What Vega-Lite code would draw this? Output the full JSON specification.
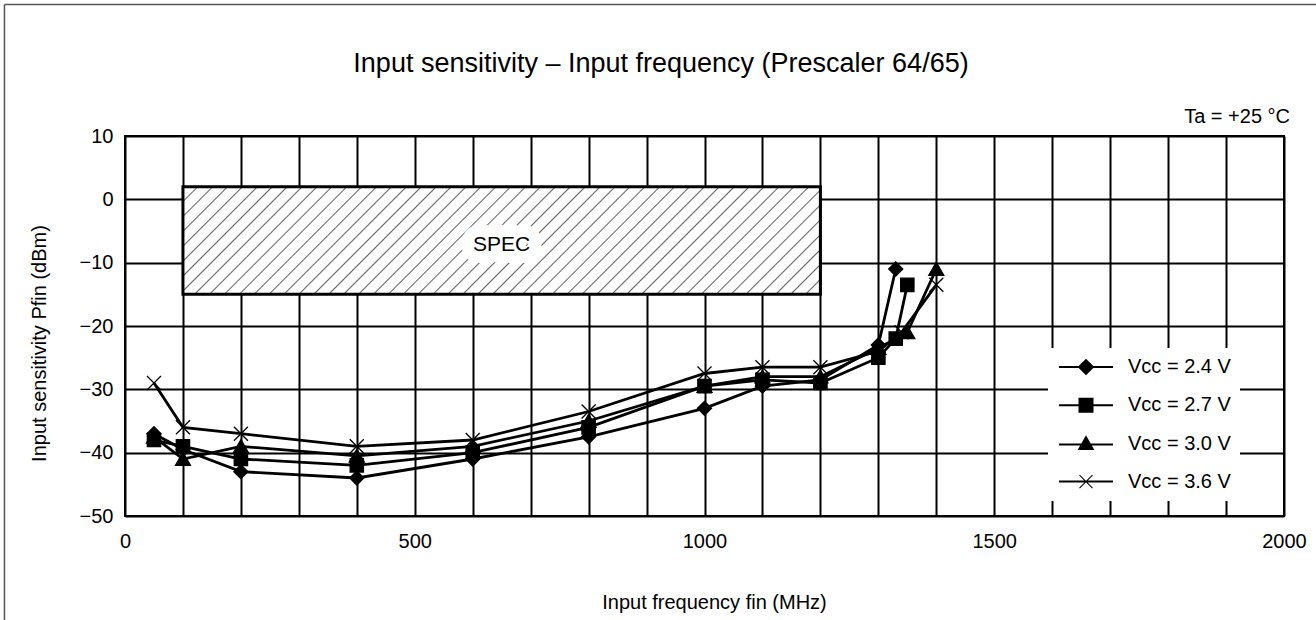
{
  "$schema": "https://vega.github.io/schema/vega-lite/v6.json",
  "width": 1159,
  "height": 380,
  "autosize": {"type": "none"},
  "padding": {"left": 125, "top": 136, "right": 32, "bottom": 104},
  "background": "white",
  "title": {
    "text": "Input sensitivity – Input frequency (Prescaler 64/65)",
    "font": "Liberation Sans",
    "fontSize": 27,
    "fontWeight": "normal",
    "color": "black",
    "anchor": "middle",
    "frame": "group",
    "dx": -43.5,
    "offset": -95,
    "baseline": "alphabetic"
  },
  "config": {
    "font": "Liberation Sans",
    "view": {"stroke": "black", "strokeWidth": 2},
    "axis": {
      "grid": true,
      "gridColor": "black",
      "gridWidth": 2,
      "gridOpacity": 1,
      "ticks": false,
      "domain": false,
      "labelFont": "Liberation Sans",
      "labelFontSize": 20,
      "labelColor": "black",
      "labelFlush": false,
      "labelOverlap": false,
      "titleFont": "Liberation Sans",
      "titleFontSize": 20,
      "titleFontWeight": "normal",
      "titleColor": "black"
    }
  },
  "resolve": {"scale": {"shape": "independent"}, "legend": {"shape": "independent"}},
  "datasets": {
    "curves": [
      {"series": "Vcc = 2.4 V", "f": 50, "p": -37},
      {"series": "Vcc = 2.4 V", "f": 100, "p": -39.5},
      {"series": "Vcc = 2.4 V", "f": 200, "p": -43},
      {"series": "Vcc = 2.4 V", "f": 400, "p": -44},
      {"series": "Vcc = 2.4 V", "f": 600, "p": -41},
      {"series": "Vcc = 2.4 V", "f": 800, "p": -37.5},
      {"series": "Vcc = 2.4 V", "f": 1000, "p": -33},
      {"series": "Vcc = 2.4 V", "f": 1100, "p": -29.5},
      {"series": "Vcc = 2.4 V", "f": 1200, "p": -28.5},
      {"series": "Vcc = 2.4 V", "f": 1300, "p": -23},
      {"series": "Vcc = 2.4 V", "f": 1330, "p": -11},
      {"series": "Vcc = 2.7 V", "f": 50, "p": -38},
      {"series": "Vcc = 2.7 V", "f": 100, "p": -39},
      {"series": "Vcc = 2.7 V", "f": 200, "p": -41},
      {"series": "Vcc = 2.7 V", "f": 400, "p": -42},
      {"series": "Vcc = 2.7 V", "f": 600, "p": -40},
      {"series": "Vcc = 2.7 V", "f": 800, "p": -36},
      {"series": "Vcc = 2.7 V", "f": 1000, "p": -29.5},
      {"series": "Vcc = 2.7 V", "f": 1100, "p": -28.5},
      {"series": "Vcc = 2.7 V", "f": 1200, "p": -29},
      {"series": "Vcc = 2.7 V", "f": 1300, "p": -25},
      {"series": "Vcc = 2.7 V", "f": 1330, "p": -22},
      {"series": "Vcc = 2.7 V", "f": 1350, "p": -13.5},
      {"series": "Vcc = 3.0 V", "f": 50, "p": -37.5},
      {"series": "Vcc = 3.0 V", "f": 100, "p": -41},
      {"series": "Vcc = 3.0 V", "f": 200, "p": -39},
      {"series": "Vcc = 3.0 V", "f": 400, "p": -40.5},
      {"series": "Vcc = 3.0 V", "f": 600, "p": -39},
      {"series": "Vcc = 3.0 V", "f": 800, "p": -35},
      {"series": "Vcc = 3.0 V", "f": 1000, "p": -29.5},
      {"series": "Vcc = 3.0 V", "f": 1100, "p": -28},
      {"series": "Vcc = 3.0 V", "f": 1200, "p": -28},
      {"series": "Vcc = 3.0 V", "f": 1300, "p": -23.5},
      {"series": "Vcc = 3.0 V", "f": 1350, "p": -21},
      {"series": "Vcc = 3.0 V", "f": 1400, "p": -11},
      {"series": "Vcc = 3.6 V", "f": 50, "p": -29},
      {"series": "Vcc = 3.6 V", "f": 100, "p": -36},
      {"series": "Vcc = 3.6 V", "f": 200, "p": -37},
      {"series": "Vcc = 3.6 V", "f": 400, "p": -39},
      {"series": "Vcc = 3.6 V", "f": 600, "p": -38},
      {"series": "Vcc = 3.6 V", "f": 800, "p": -33.5},
      {"series": "Vcc = 3.6 V", "f": 1000, "p": -27.5},
      {"series": "Vcc = 3.6 V", "f": 1100, "p": -26.5},
      {"series": "Vcc = 3.6 V", "f": 1200, "p": -26.5},
      {"series": "Vcc = 3.6 V", "f": 1300, "p": -24},
      {"series": "Vcc = 3.6 V", "f": 1340, "p": -21},
      {"series": "Vcc = 3.6 V", "f": 1400, "p": -13.5}
    ],
    "spec": [
      {"label": "SPEC", "note": "Ta = +25 °C", "f": 100, "f2": 1200, "p": 2, "p2": -15}
    ]
  },
  "data": {"name": "curves"},
  "encoding": {
    "x": {
      "field": "f",
      "type": "quantitative",
      "scale": {"domain": [0, 2000], "nice": false, "zero": false},
      "axis": {
        "values": [0, 100, 200, 300, 400, 500, 600, 700, 800, 900, 1000, 1100, 1200, 1300, 1400, 1500, 1600, 1700, 1800, 1900, 2000],
        "format": "d",
        "labelExpr": "datum.value % 500 === 0 ? datum.label : ''",
        "labelPadding": 31,
        "labelBaseline": "alphabetic",
        "title": "Input frequency fin (MHz)",
        "titleX": 589,
        "titleY": 92.5,
        "titleBaseline": "alphabetic",
        "titleAlign": "center"
      }
    },
    "y": {
      "field": "p",
      "type": "quantitative",
      "scale": {"domain": [-50, 10], "nice": false, "zero": false},
      "axis": {
        "values": [-50, -40, -30, -20, -10, 0, 10],
        "labelPadding": 12,
        "title": "Input sensitivity Pfin (dBm)",
        "titleX": -80,
        "titleY": 207,
        "titleAngle": 270,
        "titleBaseline": "alphabetic",
        "titleAlign": "center"
      }
    }
  },
  "layer": [
    {
      "data": {"name": "spec"},
      "mark": {
        "type": "rect",
        "stroke": "black",
        "strokeWidth": 3,
        "fill": {
          "gradient": "linear",
          "x1": 0, "y1": 0, "x2": 1.1365, "y2": 0.1919,
          "stops": [
            {"offset": 0, "color": "#666"}, {"offset": 0.002, "color": "#fff"}, {"offset": 0.018, "color": "#fff"},
            {"offset": 0.02, "color": "#666"}, {"offset": 0.022, "color": "#fff"}, {"offset": 0.038, "color": "#fff"},
            {"offset": 0.04, "color": "#666"}, {"offset": 0.042, "color": "#fff"}, {"offset": 0.058, "color": "#fff"},
            {"offset": 0.06, "color": "#666"}, {"offset": 0.062, "color": "#fff"}, {"offset": 0.078, "color": "#fff"},
            {"offset": 0.08, "color": "#666"}, {"offset": 0.082, "color": "#fff"}, {"offset": 0.098, "color": "#fff"},
            {"offset": 0.1, "color": "#666"}, {"offset": 0.102, "color": "#fff"}, {"offset": 0.118, "color": "#fff"},
            {"offset": 0.12, "color": "#666"}, {"offset": 0.122, "color": "#fff"}, {"offset": 0.138, "color": "#fff"},
            {"offset": 0.14, "color": "#666"}, {"offset": 0.142, "color": "#fff"}, {"offset": 0.158, "color": "#fff"},
            {"offset": 0.16, "color": "#666"}, {"offset": 0.162, "color": "#fff"}, {"offset": 0.178, "color": "#fff"},
            {"offset": 0.18, "color": "#666"}, {"offset": 0.182, "color": "#fff"}, {"offset": 0.198, "color": "#fff"},
            {"offset": 0.2, "color": "#666"}, {"offset": 0.202, "color": "#fff"}, {"offset": 0.218, "color": "#fff"},
            {"offset": 0.22, "color": "#666"}, {"offset": 0.222, "color": "#fff"}, {"offset": 0.238, "color": "#fff"},
            {"offset": 0.24, "color": "#666"}, {"offset": 0.242, "color": "#fff"}, {"offset": 0.258, "color": "#fff"},
            {"offset": 0.26, "color": "#666"}, {"offset": 0.262, "color": "#fff"}, {"offset": 0.278, "color": "#fff"},
            {"offset": 0.28, "color": "#666"}, {"offset": 0.282, "color": "#fff"}, {"offset": 0.298, "color": "#fff"},
            {"offset": 0.3, "color": "#666"}, {"offset": 0.302, "color": "#fff"}, {"offset": 0.318, "color": "#fff"},
            {"offset": 0.32, "color": "#666"}, {"offset": 0.322, "color": "#fff"}, {"offset": 0.338, "color": "#fff"},
            {"offset": 0.34, "color": "#666"}, {"offset": 0.342, "color": "#fff"}, {"offset": 0.358, "color": "#fff"},
            {"offset": 0.36, "color": "#666"}, {"offset": 0.362, "color": "#fff"}, {"offset": 0.378, "color": "#fff"},
            {"offset": 0.38, "color": "#666"}, {"offset": 0.382, "color": "#fff"}, {"offset": 0.398, "color": "#fff"},
            {"offset": 0.4, "color": "#666"}, {"offset": 0.402, "color": "#fff"}, {"offset": 0.418, "color": "#fff"},
            {"offset": 0.42, "color": "#666"}, {"offset": 0.422, "color": "#fff"}, {"offset": 0.438, "color": "#fff"},
            {"offset": 0.44, "color": "#666"}, {"offset": 0.442, "color": "#fff"}, {"offset": 0.458, "color": "#fff"},
            {"offset": 0.46, "color": "#666"}, {"offset": 0.462, "color": "#fff"}, {"offset": 0.478, "color": "#fff"},
            {"offset": 0.48, "color": "#666"}, {"offset": 0.482, "color": "#fff"}, {"offset": 0.498, "color": "#fff"},
            {"offset": 0.5, "color": "#666"}, {"offset": 0.502, "color": "#fff"}, {"offset": 0.518, "color": "#fff"},
            {"offset": 0.52, "color": "#666"}, {"offset": 0.522, "color": "#fff"}, {"offset": 0.538, "color": "#fff"},
            {"offset": 0.54, "color": "#666"}, {"offset": 0.542, "color": "#fff"}, {"offset": 0.558, "color": "#fff"},
            {"offset": 0.56, "color": "#666"}, {"offset": 0.562, "color": "#fff"}, {"offset": 0.578, "color": "#fff"},
            {"offset": 0.58, "color": "#666"}, {"offset": 0.582, "color": "#fff"}, {"offset": 0.598, "color": "#fff"},
            {"offset": 0.6, "color": "#666"}, {"offset": 0.602, "color": "#fff"}, {"offset": 0.618, "color": "#fff"},
            {"offset": 0.62, "color": "#666"}, {"offset": 0.622, "color": "#fff"}, {"offset": 0.638, "color": "#fff"},
            {"offset": 0.64, "color": "#666"}, {"offset": 0.642, "color": "#fff"}, {"offset": 0.658, "color": "#fff"},
            {"offset": 0.66, "color": "#666"}, {"offset": 0.662, "color": "#fff"}, {"offset": 0.678, "color": "#fff"},
            {"offset": 0.68, "color": "#666"}, {"offset": 0.682, "color": "#fff"}, {"offset": 0.698, "color": "#fff"},
            {"offset": 0.7, "color": "#666"}, {"offset": 0.702, "color": "#fff"}, {"offset": 0.718, "color": "#fff"},
            {"offset": 0.72, "color": "#666"}, {"offset": 0.722, "color": "#fff"}, {"offset": 0.738, "color": "#fff"},
            {"offset": 0.74, "color": "#666"}, {"offset": 0.742, "color": "#fff"}, {"offset": 0.758, "color": "#fff"},
            {"offset": 0.76, "color": "#666"}, {"offset": 0.762, "color": "#fff"}, {"offset": 0.778, "color": "#fff"},
            {"offset": 0.78, "color": "#666"}, {"offset": 0.782, "color": "#fff"}, {"offset": 0.798, "color": "#fff"},
            {"offset": 0.8, "color": "#666"}, {"offset": 0.802, "color": "#fff"}, {"offset": 0.818, "color": "#fff"},
            {"offset": 0.82, "color": "#666"}, {"offset": 0.822, "color": "#fff"}, {"offset": 0.838, "color": "#fff"},
            {"offset": 0.84, "color": "#666"}, {"offset": 0.842, "color": "#fff"}, {"offset": 0.858, "color": "#fff"},
            {"offset": 0.86, "color": "#666"}, {"offset": 0.862, "color": "#fff"}, {"offset": 0.878, "color": "#fff"},
            {"offset": 0.88, "color": "#666"}, {"offset": 0.882, "color": "#fff"}, {"offset": 0.898, "color": "#fff"},
            {"offset": 0.9, "color": "#666"}, {"offset": 0.902, "color": "#fff"}, {"offset": 0.918, "color": "#fff"},
            {"offset": 0.92, "color": "#666"}, {"offset": 0.922, "color": "#fff"}, {"offset": 0.938, "color": "#fff"},
            {"offset": 0.94, "color": "#666"}, {"offset": 0.942, "color": "#fff"}, {"offset": 0.958, "color": "#fff"},
            {"offset": 0.96, "color": "#666"}, {"offset": 0.962, "color": "#fff"}, {"offset": 0.978, "color": "#fff"},
            {"offset": 0.98, "color": "#666"}, {"offset": 0.982, "color": "#fff"}, {"offset": 0.998, "color": "#fff"},
            {"offset": 1, "color": "#666"}
          ]
        }
      },
      "encoding": {
        "x2": {"field": "f2"},
        "y2": {"field": "p2"}
      }
    },
    {
      "data": {"name": "spec"},
      "mark": {"type": "text", "font": "Liberation Sans", "fontSize": 21, "align": "center", "baseline": "middle", "fill": "white", "stroke": "white", "strokeWidth": 24, "strokeJoin": "round"},
      "encoding": {
        "x": {"datum": 650, "type": "quantitative"},
        "y": {"datum": -7.2, "type": "quantitative"},
        "text": {"field": "label"}
      }
    },
    {
      "data": {"name": "spec"},
      "mark": {"type": "text", "font": "Liberation Sans", "fontSize": 21, "align": "center", "baseline": "middle", "color": "black"},
      "encoding": {
        "x": {"datum": 650, "type": "quantitative"},
        "y": {"datum": -7.2, "type": "quantitative"},
        "text": {"field": "label"}
      }
    },
    {
      "mark": {"type": "line", "color": "black", "strokeWidth": 2.8},
      "encoding": {
        "detail": {"field": "series", "type": "nominal"}
      }
    },
    {
      "mark": {"type": "point", "filled": true, "fill": "black", "stroke": "black", "strokeWidth": 1.3, "size": 196, "opacity": 1},
      "encoding": {
        "shape": {
          "field": "series",
          "type": "nominal",
          "scale": {
            "domain": ["Vcc = 2.4 V", "Vcc = 2.7 V", "Vcc = 3.0 V", "Vcc = 3.6 V"],
            "range": ["M-1,0L0,-1L1,0L0,1Z", "M-0.95,-0.95H0.95V0.95H-0.95Z", "M0,-0.95L1.07,0.9L-1.07,0.9Z", "M-1,-1L1,1M-1,1L1,-1"]
          },
          "legend": null
        }
      }
    },
    {
      "transform": [{"filter": "datum.f < 0"}],
      "mark": {"type": "point", "filled": true, "fill": "black", "stroke": "black", "strokeWidth": 1, "size": 100, "opacity": 1},
      "encoding": {
        "shape": {
          "field": "series",
          "type": "nominal",
          "scale": {
            "domain": ["Vcc = 2.4 V", "Vcc = 2.7 V", "Vcc = 3.0 V", "Vcc = 3.6 V"],
            "range": [
              "M-5.4,-0.2H5.4V0.2H-5.4Z M-1.67,0L0,-1.67L1.67,0L0,1.67Z",
              "M-5.4,-0.2H5.4V0.2H-5.4Z M-1.5,-1.5H1.5V1.5H-1.5Z",
              "M-5.4,-0.2H5.4V0.2H-5.4Z M0,-1.85L1.68,1.1L-1.68,1.1Z",
              "M-5.4,-0.2H5.4V0.2H-5.4Z M-1.23,-1.37L1.37,1.23L1.23,1.37L-1.37,-1.23Z M-1.23,1.37L-1.37,1.23L1.23,-1.37L1.37,-1.23Z"
            ]
          },
          "legend": {
            "title": null,
            "orient": "none",
            "legendX": 923,
            "legendY": 212,
            "fillColor": "white",
            "padding": 9,
            "labelFont": "Liberation Sans",
            "labelFontSize": 20,
            "labelColor": "black",
            "symbolSize": 100,
            "symbolStrokeWidth": 1,
            "symbolFillColor": "black",
            "symbolStrokeColor": "black",
            "symbolOpacity": 1,
            "symbolOffset": 19,
            "labelOffset": 32,
            "rowPadding": 17.2,
            "labelLimit": 0
          }
        }
      }
    },
    {
      "data": {"name": "spec"},
      "mark": {"type": "text", "clip": false, "font": "Liberation Sans", "fontSize": 20, "align": "right", "baseline": "alphabetic", "dx": 6, "dy": -13, "color": "black"},
      "encoding": {
        "x": {"datum": 2000, "type": "quantitative"},
        "y": {"datum": 10, "type": "quantitative"},
        "text": {"field": "note", "type": "nominal"}
      }
    },
    {
      "data": {"name": "spec"},
      "mark": {"type": "rule", "clip": false, "color": "#555", "strokeWidth": 1.5},
      "encoding": {
        "x": {"datum": -208, "type": "quantitative"},
        "x2": {"datum": 2400},
        "y": {"datum": 30.76, "type": "quantitative"}
      }
    },
    {
      "data": {"name": "spec"},
      "mark": {"type": "rule", "clip": false, "color": "#555", "strokeWidth": 1.5},
      "encoding": {
        "x": {"datum": -208, "type": "quantitative"},
        "y": {"datum": 30.76, "type": "quantitative"},
        "y2": {"datum": -100}
      }
    }
  ]
}
